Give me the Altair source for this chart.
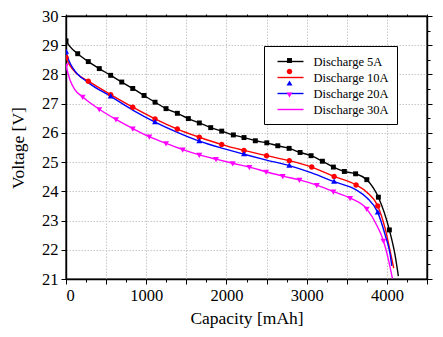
import altair as alt
import pandas as pd

series_names = ["Discharge 5A", "Discharge 10A", "Discharge 20A", "Discharge 30A"]
colors = ["#000000", "#ff0000", "#0000ff", "#ff00ff"]
# marker glyphs in symbol units (symbol radius = sqrt(size)/2)
shapes = [
    "M-0.38,-0.38L0.38,-0.38L0.38,0.38L-0.38,0.38Z",
    "M-0.42,0A0.42,0.42 0 1,0 0.42,0A0.42,0.42 0 1,0 -0.42,0Z",
    "M0,-0.48L0.46,0.32L-0.46,0.32Z",
    "M0,0.48L0.46,-0.32L-0.46,-0.32Z",
]
legend_line = "M-1,0L3,0"

cap_5a = [0, 50, 146, 278, 415, 557, 695, 832, 973, 1110, 1247, 1388, 1525, 1662, 1804,
          1941, 2086, 2219, 2360, 2503, 2640, 2781, 2918, 3055, 3196, 3333, 3470, 3610,
          3750, 3894, 4031, 4100, 4143]
volt_5a = [29.15, 28.95, 28.71, 28.44, 28.20, 27.97, 27.74, 27.52, 27.28, 27.05, 26.83,
           26.67, 26.49, 26.34, 26.18, 26.06, 25.93, 25.84, 25.73, 25.66, 25.56, 25.47,
           25.33, 25.22, 25.03, 24.83, 24.68, 24.60, 24.40, 23.80, 22.68, 21.85, 21.10]
mark_5a = [1, 0] + [1] * 29 + [0, 0]

cap_10a = [0, 50, 133, 278, 557, 832, 1110, 1388, 1662, 1941, 2219, 2500, 2784, 3063,
           3342, 3616, 3750, 3886, 3978, 4040, 4085]
volt_10a = [28.58, 28.30, 28.03, 27.77, 27.31, 26.88, 26.48, 26.13, 25.85, 25.60, 25.40,
            25.22, 25.05, 24.83, 24.51, 24.22, 23.97, 23.50, 22.73, 21.96, 21.37]
mark_10a = [1, 0, 0] + [1] * 13 + [0, 1, 0, 0, 0]

cap_20a = [0, 40, 90, 278, 557, 832, 1110, 1388, 1662, 1941, 2219, 2500, 2784, 3063,
           3342, 3616, 3750, 3886, 3978, 4040, 4061]
volt_20a = [28.78, 28.45, 28.20, 27.72, 27.25, 26.78, 26.37, 26.02, 25.72, 25.48, 25.27,
            25.07, 24.88, 24.63, 24.33, 24.05, 23.78, 23.28, 22.51, 21.85, 21.45]
mark_20a = [1, 0, 0, 0, 1, 0, 1, 0, 1, 0, 1, 0, 1, 0, 1, 0, 0, 1, 0, 0, 0]

cap_30a = [0, 50, 110, 208, 415, 623, 832, 1039, 1247, 1455, 1662, 1870, 2078, 2286,
           2494, 2702, 2910, 3126, 3333, 3541, 3749, 3874, 3957, 4022, 4069]
volt_30a = [28.30, 27.81, 27.48, 27.23, 26.81, 26.46, 26.15, 25.87, 25.64, 25.43, 25.25,
            25.10, 24.96, 24.83, 24.67, 24.52, 24.39, 24.21, 23.99, 23.77, 23.40, 22.84,
            22.31, 21.63, 21.02]
mark_30a = [1, 0, 0] + [1] * 18 + [0, 1, 0, 0]

x_ticks = list(range(0, 4501, 250))
y_ticks = [21 + 0.5 * i for i in range(19)]

marker_keys = ["m" + n for n in series_names]

rows = []
for name, mkey, caps, volts, marks in [
    (series_names[0], marker_keys[0], cap_5a, volt_5a, mark_5a),
    (series_names[1], marker_keys[1], cap_10a, volt_10a, mark_10a),
    (series_names[2], marker_keys[2], cap_20a, volt_20a, mark_20a),
    (series_names[3], marker_keys[3], cap_30a, volt_30a, mark_30a),
]:
    for c, v, m in zip(caps, volts, marks):
        rows.append({"cap": c, "volt": v, "series": name, "mkey": mkey, "marker": m})
df = pd.DataFrame(rows)

FONT = "Liberation Serif, Times New Roman, serif"

x_axis = alt.Axis(
    values=x_ticks, format="d",
    labelExpr="datum.value % 500 == 0 ? datum.label : ''",
    tickSize={"condition": {"test": "datum.value % 500 != 0", "value": 3}, "value": 5},
    gridOpacity={"condition": {"test": "datum.value % 500 != 0", "value": 0}, "value": 1},
    labelPadding=3, titlePadding=6,
)
x_axis_top = alt.Axis(
    orient="top", values=x_ticks, labels=False, grid=False, title=None, tickSize=2,
)
y_axis = alt.Axis(
    values=y_ticks, format="d",
    labelExpr="datum.value % 1 == 0 ? datum.label : ''",
    tickSize={"condition": {"test": "datum.value % 1 != 0", "value": 3}, "value": 5},
    gridOpacity={"condition": {"test": "datum.value % 1 != 0", "value": 0}, "value": 1},
    labelPadding=3, titlePadding=14,
)
y_axis_right = alt.Axis(
    orient="right", values=y_ticks, labels=False, grid=False, title=None,
    tickSize={"condition": {"test": "datum.value % 1 != 0", "value": 3}, "value": 5},
)

x_scale = alt.Scale(domain=[0, 4500], nice=False, zero=False)
y_scale = alt.Scale(domain=[21, 30], nice=False, zero=False)

LEG_X, LEG_Y, LEG_PAD, ROW_PAD, SYM = 198, 30, 8, 2, 169

lines = alt.Chart(df).mark_line(strokeWidth=1.4, interpolate="monotone", clip=True).encode(
    x=alt.X("cap:Q", scale=x_scale, axis=x_axis, title="Capacity [mAh]"),
    y=alt.Y("volt:Q", scale=y_scale, axis=y_axis, title="Voltage [V]"),
    stroke=alt.Stroke("series:N", scale=alt.Scale(domain=series_names, range=colors),
                      legend=alt.Legend(
        orient="none", legendX=LEG_X, legendY=LEG_Y, title=None, symbolType=legend_line,
        symbolSize=SYM, symbolStrokeWidth=1.4, symbolOffset=4.5, labelFont=FONT,
        labelFontSize=12.5, labelColor="black", labelOffset=22, padding=LEG_PAD,
        rowPadding=ROW_PAD, fillColor="white", strokeColor="black", labelLimit=200,
        zindex=1,
    )),
)

points = alt.Chart(df).transform_filter("datum.marker == 1").mark_point(
    filled=True, size=SYM, opacity=1, clip=True
).encode(
    x=alt.X("cap:Q", scale=x_scale, axis=x_axis_top),
    y=alt.Y("volt:Q", scale=y_scale, axis=y_axis_right),
    color=alt.Color("mkey:N", scale=alt.Scale(domain=marker_keys, range=colors),
                    legend=alt.Legend(
        orient="none", legendX=LEG_X, legendY=LEG_Y, title=None, symbolSize=SYM,
        symbolStrokeWidth=0, symbolOffset=11, labelExpr="''", labelFontSize=1,
        labelOffset=22, padding=LEG_PAD, rowPadding=ROW_PAD,
        symbolOpacity=1, zindex=2,
    )),
    shape=alt.Shape("mkey:N", scale=alt.Scale(domain=marker_keys, range=shapes)),
)

chart = alt.layer(lines, points).resolve_axis(x="independent", y="independent").properties(
    width=361, height=263,
    autosize=alt.AutoSizeParams(type="none"),
    padding={"left": 58, "top": 8, "right": 8, "bottom": 50},
).configure_view(stroke="black", strokeWidth=1.4).configure_axis(
    labelFont=FONT, titleFont=FONT, labelFontSize=16.5, titleFontSize=17.5,
    labelColor="black", titleColor="black", titleFontWeight="normal",
    domainColor="black", domainWidth=1.4, tickColor="black", tickWidth=1,
    gridColor="#c8c8c8", gridDash=[1.5, 1.5], gridWidth=1,
)

chart.save("out.html", embed_options={"renderer": "svg", "actions": False})
